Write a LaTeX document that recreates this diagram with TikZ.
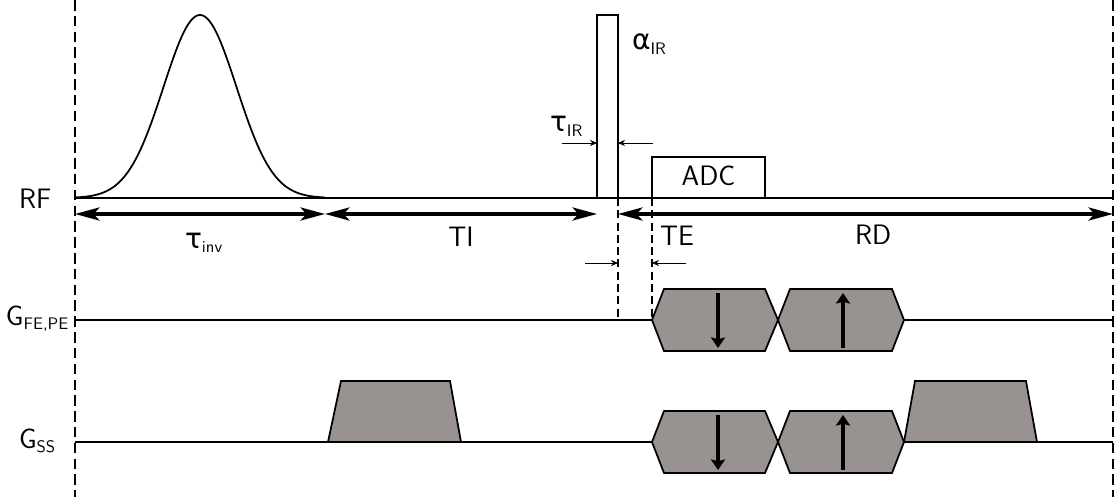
\documentclass[tikz,border=0pt]{standalone}
\usepackage{fontspec}
\newfontfamily\grk{DejaVu Sans}
\usetikzlibrary{arrows.meta, positioning, calc}
\definecolor{gradgray}{RGB}{152,146,144}
\newcommand{\lowidx}[1]{\textsubscript{\fontsize{9.5}{10}\selectfont #1}}

\begin{document}
\begin{tikzpicture}[
      x=0.02cm, y=-0.02cm,
      font=\sffamily\fontsize{16}{19}\selectfont,
      lbl/.style={inner sep=0pt, outer sep=0pt},
      base/.style={line width=1pt},
      frame/.style={line width=1.2pt, dash pattern=on 6pt off 3pt},
      guide/.style={line width=0.6pt, dash pattern=on 4.5pt off 2.5pt},
      span/.style={{Stealth[length=14pt,width=7.5pt,inset=3.5pt]}-{Stealth[length=14pt,width=7.5pt,inset=3.5pt]},
                   line width=1.8pt},
      dim/.style={-{Stealth[length=4pt,width=3.5pt]}, line width=0.45pt},
      pulse/.style={draw=black, line width=1pt},
      grad/.style={draw=black, fill=gradgray, line width=1pt, line join=miter},
      dir/.style={-{Stealth[length=6pt,width=8pt,inset=1pt]}, line width=1.8pt}
    ]
    \useasboundingbox (0,0) rectangle (1117,497);

    % Time marks
    \coordinate (t0) at (75,198);
    \coordinate (t1) at (325,198);
    \coordinate (t2) at (597,198);
    \coordinate (t3) at (618,198);
    \coordinate (t4) at (652,198);
    \coordinate (t5) at (1113,198);

    % Frame: dashed limits
    \coordinate (ftop) at (75,0);
    \coordinate (fbot) at (75,497);
    \coordinate (gtop) at (1113,0);
    \coordinate (gbot) at (1113,497);
    \draw[frame] (ftop) -- (fbot);
    \draw[frame] (gtop) -- (gbot);

    % Row 1: RF
    \node[lbl, anchor=base west] (rf) at (19,208) {RF};
    \draw[base] (t0) -- (t5);
    \draw[base] plot[domain=75:325, samples=120]
      (\x, {198-183*exp(-((\x-200)^2)/2664.5)});
    \node[pulse, lbl, minimum width=21*0.02cm, minimum height=183*0.02cm,
          anchor=south west] (alpha) at (t2) {};
    \node[lbl, anchor=base west] (alphalbl) at (632,50) {{\grk α}\lowidx{IR}};
    \node[pulse, lbl, minimum width=113*0.02cm, minimum height=41*0.02cm,
          anchor=south west] (adc) at (t4) {};
    \node[lbl, anchor=base] (adclbl) at (adc.center |- 0,185) {ADC};

    % tau_IR width
    \node[lbl, anchor=base west] (taulbl) at (550,132) {{\grk τ}\lowidx{IR}};
    \coordinate (irl) at (562,143);
    \coordinate (irr) at (653,143);
    \draw[dim] (irl) -- (alpha.west |- irl);
    \draw[dim] (irr) -- (alpha.east |- irr);

    % Row 2: timing spans
    \draw[span] ($(t0)+(0,16)$) -- ($(t1)+(0,16)$);
    \draw[span] ($(t1)+(0,16)$) -- ($(t2)+(0,16)$);
    \draw[span] ($(t3)+(0,16)$) -- ($(t5)+(0,16)$);
    \node[lbl, anchor=base west] (tinv) at (185,248) {{\grk τ}\lowidx{inv}};
    \node[lbl, anchor=base] (ti) at (461,246) {TI};
    \node[lbl, anchor=base west] (te) at (660,245) {TE};
    \node[lbl, anchor=base west] (rd) at (855,244) {RD};

    % TE guides
    \coordinate (g1) at (618,320);
    \coordinate (g2) at (652,320);
    \draw[guide] (t3) -- (g1);
    \draw[guide] (t4) -- (g2);
    \coordinate (tel) at (585,263);
    \coordinate (ter) at (686,263);
    \draw[dim] (tel) -- (t3 |- tel);
    \draw[dim] (ter) -- (t4 |- ter);

    % Row 3: G_FE,PE and Row 4: G_SS
    \node[lbl, anchor=base west] (gfe) at (6,325) {G\lowidx{FE,PE}};
    \node[lbl, anchor=base west] (gss) at (19,448) {G\lowidx{SS}};
    \foreach \y in {320,442} {
      \draw[base] (75,\y) -- (1113,\y);
      \draw[grad] (652,\y) -- (664,\y-31) -- (765,\y-31) -- (778,\y)
                  -- (765,\y+31) -- (664,\y+31) -- cycle;
      \draw[grad] (778,\y) -- (790,\y-31) -- (892,\y-31) -- (904,\y)
                  -- (892,\y+31) -- (790,\y+31) -- cycle;
      \draw[dir] (718,\y-27) -- (718,\y+28);
      \draw[dir] (843,\y+28) -- (843,\y-27);
    }
    \draw[grad] (328,442) -- (341,381) -- (450,381) -- (461,442) -- cycle;
    \draw[grad] (904,442) -- (915,381) -- (1026,381) -- (1037,442) -- cycle;
  \end{tikzpicture}
\end{document}
